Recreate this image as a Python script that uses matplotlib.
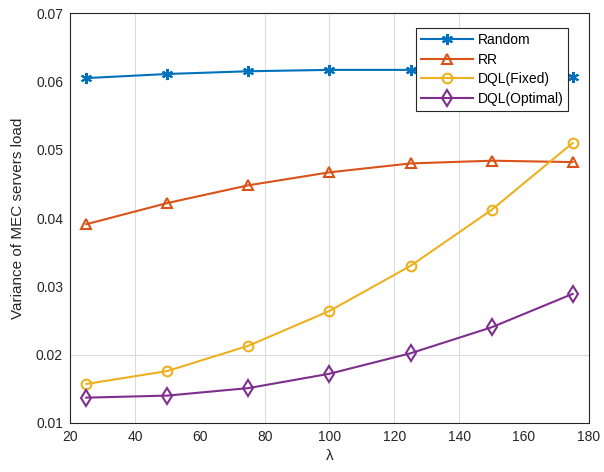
import matplotlib
matplotlib.use("Agg")
import matplotlib.pyplot as plt

plt.rcParams["font.family"] = ["Liberation Sans", "DejaVu Sans"]

lam = [25, 50, 75, 100, 125, 150, 175]
random_var = [0.0605, 0.0611, 0.0615, 0.0617, 0.0617, 0.0616, 0.0607]
rr_var = [0.0391, 0.0422, 0.0448, 0.0467, 0.0480, 0.0484, 0.0482]
dql_fixed = [0.0157, 0.0176, 0.0213, 0.0264, 0.0330, 0.0412, 0.0510]
dql_optimal = [0.0137, 0.0140, 0.0151, 0.0172, 0.0202, 0.0240, 0.0289]

xticks = [20, 40, 60, 80, 100, 120, 140, 160, 180]
yticks = [0.01, 0.02, 0.03, 0.04, 0.05, 0.06, 0.07]
# only these grid/tick marks show in the original
xgrid = [40, 80, 100, 120, 140]
ygrid = [0.02]

fig = plt.figure(figsize=(6.04, 4.72), dpi=100)
ax = fig.add_axes([0.116, 0.104, 0.859, 0.868])

for x in xgrid:
    ax.axvline(x, color="#dcdcdc", linewidth=0.8, zorder=0)
for y in ygrid:
    ax.axhline(y, color="#dcdcdc", linewidth=0.8, zorder=0)

# matlab-style asterisk marker
ax.plot(lam, random_var, color="#0072BD", marker=(6, 2, 0), markersize=8,
        markeredgewidth=1.5, linewidth=1.5, label="Random")
ax.plot(lam, rr_var, color="#D95319", marker="^", markersize=7,
        markerfacecolor="none", markeredgewidth=1.5, linewidth=1.5, label="RR")
ax.plot(lam, dql_fixed, color="#EDB120", marker="o", markersize=7,
        markerfacecolor="none", markeredgewidth=1.5, linewidth=1.5,
        label="DQL(Fixed)")
ax.plot(lam, dql_optimal, color="#7E2F8E", marker="d", markersize=8,
        markerfacecolor="none", markeredgewidth=1.5, linewidth=1.5,
        label="DQL(Optimal)")

ax.set_xlim(20, 180)
ax.set_ylim(0.01, 0.07)
ax.set_xticks(xticks)
ax.set_yticks(yticks)
ax.set_xticks(xgrid, minor=True)
ax.set_yticks(ygrid, minor=True)
ax.tick_params(which="major", length=0, labelsize=10, colors="#262626",
               pad=5)
ax.tick_params(which="minor", direction="in", length=4, top=True,
               right=True, color="#262626")
for s in ax.spines.values():
    s.set_color("#262626")
    s.set_linewidth(0.8)

ax.set_xlabel("λ", fontsize=11, color="#262626")
ax.set_ylabel("Variance of MEC servers load", fontsize=11, color="#262626",
              labelpad=8)

leg = ax.legend(loc="upper right", bbox_to_anchor=(0.96, 0.963),
                borderaxespad=0, fontsize=10, fancybox=False, framealpha=1,
                handlelength=3.8, borderpad=0.35, labelspacing=0.4,
                handletextpad=0.3)
leg.get_frame().set_edgecolor("#262626")
leg.get_frame().set_linewidth(0.8)

fig.savefig("out.png", dpi=100)
